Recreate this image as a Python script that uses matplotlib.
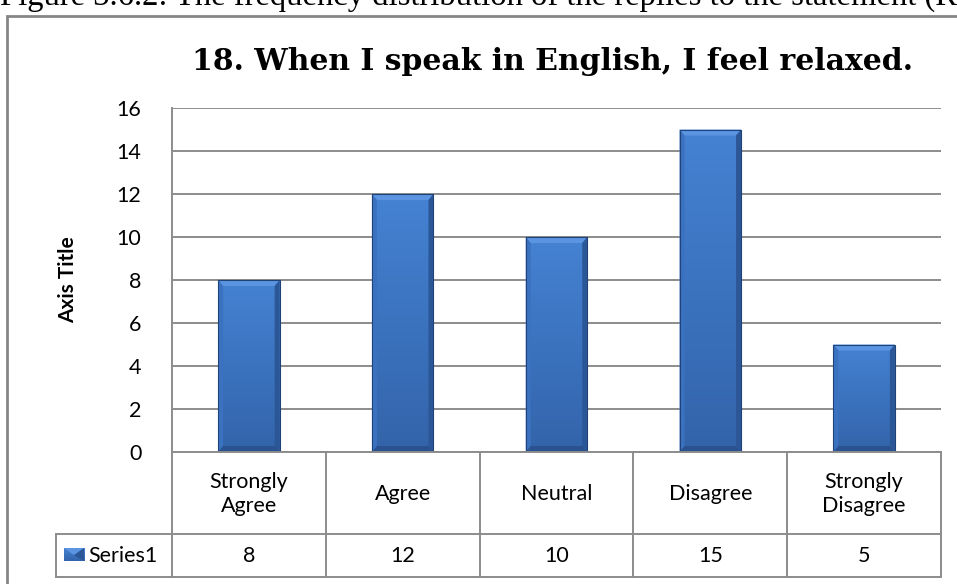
import matplotlib.pyplot as plt
import numpy as np
from matplotlib.patches import Rectangle, Polygon
from matplotlib.colors import LinearSegmentedColormap

categories = ["Strongly\nAgree", "Agree", "Neutral", "Disagree", "Strongly\nDisagree"]
counts = [8, 12, 10, 15, 5]
series_name = "Series1"
yticks = [0, 2, 4, 6, 8, 10, 12, 14, 16]

W, H = 957, 584
fig = plt.figure(figsize=(W / 100, H / 100), dpi=100)
fig.patch.set_facecolor("white")

def fx(px):
    return px / W

def fy(py):
    return 1 - py / H

# plot area in pixel terms
L, R, T, B = 172, 941, 108, 452
ax = fig.add_axes([fx(L), fy(B), fx(R) - fx(L), fy(T) - fy(B)])

grid_c = "#8c8c8c"
font = "Lato"
fs = 15.5

# vertical shading for the bar bodies (bottom -> top)
body_cmap = LinearSegmentedColormap.from_list("body", ["#3364aa", "#3b73bf", "#4582d2"])
vgrad = np.linspace(0, 1, 64).reshape(-1, 1)

x = np.arange(len(categories))
bw = 0.4
px_x = 1 / (R - L) * len(categories)   # data units per pixel, x
px_y = 16 / (B - T)                    # data units per pixel, y
bars = ax.bar(x, counts, width=bw, color="#3a70bb", zorder=3, linewidth=0)
for b in bars:
    x0, y0 = b.get_x(), b.get_y()
    w, h = b.get_width(), b.get_height()
    im = ax.imshow(vgrad, cmap=body_cmap, aspect="auto", origin="lower",
                   extent=[x0, x0 + w, y0, y0 + h], zorder=4, interpolation="bicubic")
    im.set_clip_path(b)
    bx, by = 5 * px_x, 6 * px_y
    x1, y1 = x0 + w, y0 + h
    # bevels: top light, left mid, right and bottom dark
    ax.add_patch(Polygon([[x0, y1], [x1, y1], [x1 - bx, y1 - by], [x0 + bx, y1 - by]],
                         facecolor="#5b95e2", edgecolor="none", zorder=5))
    ax.add_patch(Polygon([[x0, y0], [x0, y1], [x0 + bx, y1 - by], [x0 + bx, y0 + by]],
                         facecolor="#3b72c0", edgecolor="none", zorder=5))
    ax.add_patch(Polygon([[x1, y0], [x1, y1], [x1 - bx, y1 - by], [x1 - bx, y0 + by]],
                         facecolor="#2c5797", edgecolor="none", zorder=5))
    ax.add_patch(Polygon([[x0, y0], [x1, y0], [x1 - bx, y0 + by], [x0 + bx, y0 + by]],
                         facecolor="#2a5290", edgecolor="none", zorder=5))
    ax.add_patch(Rectangle((x0, y0), w, h, fill=False, edgecolor="#1f4278",
                           linewidth=0.8, zorder=6))

ax.set_xlim(-0.5, len(categories) - 0.5)
ax.set_ylim(0, 16)
ax.set_yticks(yticks)
ax.set_yticklabels([str(v) for v in yticks], fontsize=fs, fontfamily=font)
ax.tick_params(axis="y", length=0, pad=22)
ax.set_xticks([])
ax.grid(axis="y", color=grid_c, linewidth=1.4, zorder=0)
for s in ["top", "right", "bottom"]:
    ax.spines[s].set_visible(False)
ax.spines["left"].set_color(grid_c)
ax.spines["left"].set_linewidth(1.4)
ax.set_ylabel("Axis Title", fontsize=fs - 0.5, fontweight="bold", fontfamily=font, labelpad=28)

# data table under the axis
row1, row2, key_l = 534, 577, 56
col_w = (R - L) / len(categories)
lkw = dict(color=grid_c, linewidth=1.4, transform=fig.transFigure)
fig.add_artist(plt.Line2D([fx(L), fx(R)], [fy(B), fy(B)], **lkw))
fig.add_artist(plt.Line2D([fx(key_l), fx(R)], [fy(row1), fy(row1)], **lkw))
fig.add_artist(plt.Line2D([fx(key_l), fx(R)], [fy(row2), fy(row2)], **lkw))
fig.add_artist(plt.Line2D([fx(key_l), fx(key_l)], [fy(row1), fy(row2)], **lkw))
for i in range(len(categories) + 1):
    xc = L + i * col_w
    fig.add_artist(plt.Line2D([fx(xc), fx(xc)], [fy(B), fy(row2)], **lkw))
for i, (cat, v) in enumerate(zip(categories, counts)):
    xc = L + (i + 0.5) * col_w
    fig.text(fx(xc), fy((B + row1) / 2 + 1), cat, ha="center", va="center",
             fontsize=fs, fontfamily=font, linespacing=1.2)
    fig.text(fx(xc), fy((row1 + row2) / 2), str(v), ha="center", va="center",
             fontsize=fs, fontfamily=font)

# legend key in the table
key = fig.add_axes([fx(64), fy(561), fx(20), 13 / H])
key.imshow(vgrad, cmap=body_cmap, aspect="auto", origin="lower", extent=[0, 1, 0, 1])
key.add_patch(Polygon([[0, 1], [1, 1], [0.5, 0.45]], facecolor="#5b95e2", edgecolor="none"))
key.add_patch(Polygon([[1, 0], [1, 1], [0.5, 0.45]], facecolor="#2c5797", edgecolor="none"))
key.set_xlim(0, 1)
key.set_ylim(0, 1)
key.axis("off")
fig.text(fx(88), fy((row1 + row2) / 2), series_name, ha="left", va="center",
         fontsize=fs, fontfamily=font)

# title
fig.text(fx(553), fy(62), "18. When I speak in English, I feel relaxed.", ha="center",
         va="center", fontsize=21.5, fontweight="bold", fontfamily="DejaVu Serif")

# outer chart frame
fig.add_artist(Rectangle((fx(7), fy(590)), fx(960) - fx(7), fy(16) - fy(590),
                         transform=fig.transFigure, fill=False, edgecolor="#868686",
                         linewidth=2))

# caption line, cut off by the top edge
fig.text(0.0, fy(5), "Figure 3.6.2: The frequency distribution of the replies to the statement (R",
         ha="left", va="baseline", fontsize=23.5, fontfamily="Liberation Serif")

fig.savefig("out.png", dpi=100)
